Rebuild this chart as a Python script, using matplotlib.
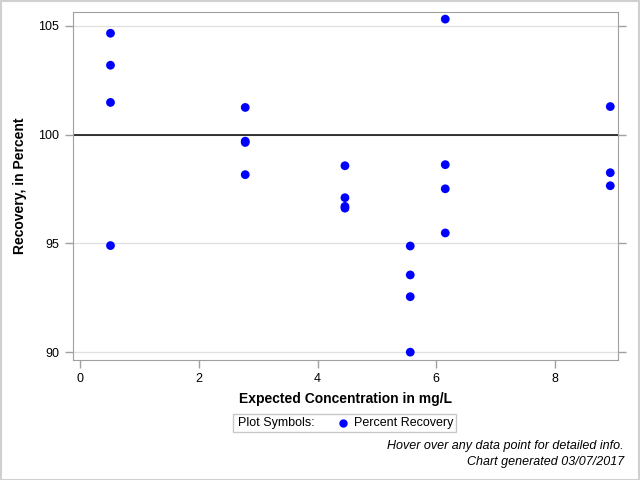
import matplotlib
matplotlib.use('Agg')
import matplotlib.pyplot as plt
from matplotlib.lines import Line2D
from matplotlib.patches import Rectangle

plt.rcParams['font.family'] = ['Liberation Sans', 'DejaVu Sans']

# expected concentration (mg/L) and percent recovery
conc = [0.51, 0.51, 0.51, 0.51,
        2.78, 2.78, 2.78, 2.78,
        4.46, 4.46, 4.46, 4.46,
        5.56, 5.56, 5.56, 5.56,
        6.15, 6.15, 6.15, 6.15,
        8.93, 8.93, 8.93]
recovery = [104.66, 103.19, 101.48, 94.9,
            101.25, 99.7, 99.64, 98.16,
            98.57, 97.1, 96.7, 96.62,
            94.88, 93.55, 92.55, 90.0,
            105.31, 98.62, 97.51, 95.48,
            101.29, 98.25, 97.65]

xticks = [0, 2, 4, 6, 8]
yticks = [90, 95, 100, 105]

fig = plt.figure(figsize=(6.4, 4.8), dpi=100)
ax = fig.add_axes([72.5/640, 1 - 360/480, (618 - 72.5)/640, (360 - 11.5)/480])

gray = '#a0a0a0'
ax.set_xlim(-0.13, 9.06)
ax.set_ylim(89.64, 105.66)
for y in yticks:
    ax.axhline(y, color='#e1e1e1', lw=1, zorder=0)
ax.axhline(100, color='black', lw=1.1, zorder=1)

ax.scatter(conc, recovery, s=40, color='#0000ff', edgecolors='none', zorder=3)

ax.set_xticks(xticks)
ax.set_yticks(yticks)
ax.tick_params(axis='both', colors=gray, labelcolor='black', labelsize=9, length=6, width=1)
ax.tick_params(axis='y', right=True)
for s in ax.spines.values():
    s.set_color(gray)

ax.set_xlabel('Expected Concentration in mg/L', fontsize=10, fontweight='bold', labelpad=5)
ax.set_ylabel('Recovery, in Percent', fontsize=10, fontweight='bold', labelpad=8)

# legend box
fig.patches.append(Rectangle((233/640, 1 - 432/480), 223/640, 18/480,
                             transform=fig.transFigure, fill=False, edgecolor='#c8c8c8', lw=1))
fig.text(238/640, 1 - 423/480, 'Plot Symbols:', fontsize=9, va='center')
fig.lines.append(Line2D([343/640], [1 - 423/480], transform=fig.transFigure, marker='o',
                        markersize=5, color='#0000ff', linestyle='none'))
fig.text(354/640, 1 - 423/480, 'Percent Recovery', fontsize=9, va='center')

fig.text(624/640, 1 - 446/480, 'Hover over any data point for detailed info.',
         fontsize=9, style='italic', ha='right', va='center')
fig.text(624/640, 1 - 462/480, 'Chart generated 03/07/2017',
         fontsize=9, style='italic', ha='right', va='center')

# outer frame
fig.patches.append(Rectangle((0.5/640, 0.5/480), 638.5/640, 478.5/480,
                             transform=fig.transFigure, fill=False, edgecolor='#d0d0d0', lw=1.5))

fig.savefig('out.png', dpi=100)
